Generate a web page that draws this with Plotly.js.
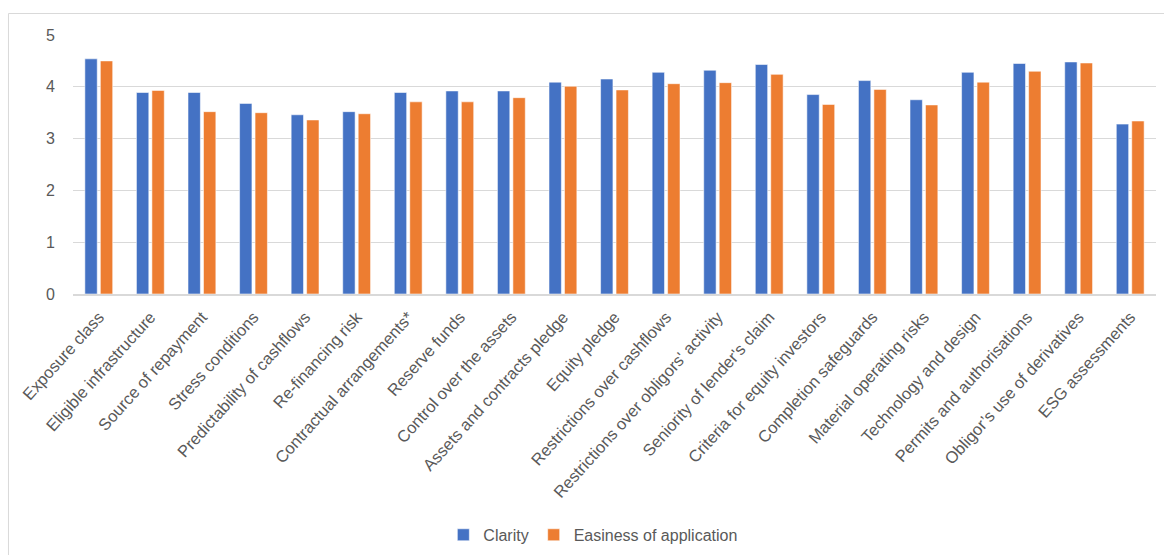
<!DOCTYPE html>
<html>
<head>
<meta charset="utf-8">
<script src="https://cdn.plot.ly/plotly-3.0.1.min.js"></script>
<style>
  html, body { margin: 0; padding: 0; background: #ffffff; }
  #chart { width: 1164px; height: 555px; }
</style>
</head>
<body>
<div id="chart"></div>
<script>
// Criteria assessed on a 0-5 scale
const categories = [
  "Exposure class",
  "Eligible infrastructure",
  "Source of repayment",
  "Stress conditions",
  "Predictability of cashflows",
  "Re-financing risk",
  "Contractual arrangements*",
  "Reserve funds",
  "Control over the assets",
  "Assets and contracts pledge",
  "Equity pledge",
  "Restrictions over cashflows",
  "Restrictions over obligors' activity",
  "Seniority of lender's claim",
  "Criteria for equity investors",
  "Completion safeguards",
  "Material operating risks",
  "Technology and design",
  "Permits and authorisations",
  "Obligor\u2019s use of derivatives",
  "ESG assessments"
];

const clarity = [4.54, 3.89, 3.89, 3.68, 3.46, 3.52, 3.89, 3.92, 3.92, 4.09, 4.15,
                 4.28, 4.32, 4.43, 3.85, 4.12, 3.75, 4.28, 4.45, 4.48, 3.28];

const easiness = [4.50, 3.93, 3.52, 3.50, 3.36, 3.48, 3.71, 3.71, 3.79, 4.01, 3.94,
                  4.06, 4.08, 4.24, 3.66, 3.95, 3.65, 4.09, 4.30, 4.46, 3.34];

const yTicks = [0, 1, 2, 3, 4, 5];

const seriesNames = ["Clarity", "Easiness of application"];

const FONT = "'Liberation Sans', Arial, sans-serif";
const TEXT = "#595959";
const GRID = "#D9D9D9";

const edge = { color: "rgba(255,255,255,0.55)", width: 1 };

const traces = [
  {
    type: "bar",
    name: seriesNames[0],
    x: categories,
    y: clarity,
    marker: { color: "#4472C4", line: edge },
    hoverinfo: "x+y+name"
  },
  {
    type: "bar",
    name: seriesNames[1],
    x: categories,
    y: easiness,
    marker: { color: "#ED7D31", line: edge },
    hoverinfo: "x+y+name"
  }
];

const layout = {
  width: 1164,
  height: 555,
  margin: { l: 73, r: 8, t: 35, b: 261, autoexpand: false },
  paper_bgcolor: "#ffffff",
  plot_bgcolor: "#ffffff",
  font: { family: FONT, color: TEXT, size: 16 },
  barmode: "group",
  bargap: 0.4,
  bargroupgap: 0.2,
  showlegend: true,
  legend: {
    orientation: "h",
    x: 0.48,
    xanchor: "center",
    y: -0.93,
    yanchor: "middle",
    font: { family: FONT, color: TEXT, size: 16 },
    itemwidth: 30,
    traceorder: "normal"
  },
  xaxis: {
    type: "category",
    tickangle: -48,
    tickfont: { family: FONT, color: TEXT, size: 16.5 },
    showgrid: false,
    showline: true,
    linecolor: GRID,
    linewidth: 2,
    ticks: "",
    ticklabelstandoff: 5,
    automargin: false
  },
  yaxis: {
    range: [0, 5],
    tickvals: yTicks,
    ticktext: yTicks.map(String),
    tickfont: { family: FONT, color: TEXT, size: 16 },
    showgrid: true,
    gridcolor: GRID,
    gridwidth: 1,
    zeroline: false,
    showline: false,
    ticks: "",
    ticklabelstandoff: 17,
    automargin: false
  },
  shapes: [
    {
      type: "rect",
      xref: "paper",
      yref: "paper",
      x0: -0.0596,
      x1: 1.05,
      y0: -1.2,
      y1: 1.083,
      line: { color: GRID, width: 1 },
      fillcolor: "rgba(0,0,0,0)",
      layer: "below"
    }
  ]
};

Plotly.newPlot("chart", traces, layout, { displayModeBar: false, staticPlot: true });
</script>
</body>
</html>
